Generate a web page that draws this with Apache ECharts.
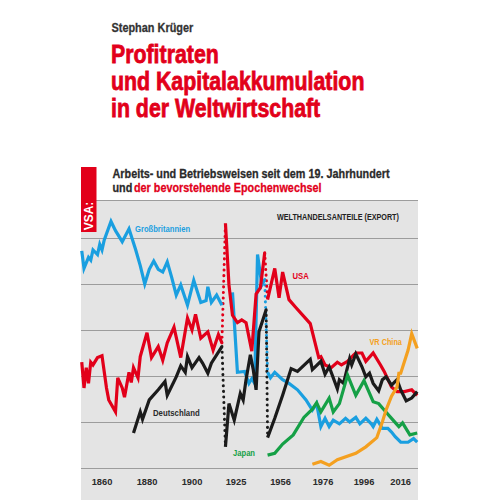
<!DOCTYPE html>
<html><head><meta charset="utf-8">
<script src="https://cdn.jsdelivr.net/npm/echarts@6/dist/echarts.min.js"></script>
<style>html,body{margin:0;padding:0;background:#fff}#c{width:500px;height:500px}</style>
</head><body><div id="c"></div>
<script>
// ---- tick labels of the (uneven) time axis ----
const tickYears = [1860, 1880, 1900, 1925, 1956, 1976, 1996, 2016];

// ---- world export shares (%), null = break in the series ----
const gbYears = [1851,1852,1854,1855,1856,1858,1859,1860,1861,1864,1866,1869,1872,1875,1877,1879,1881,1883,1885,1887,1889,1891,1893,1895,1898,1901,1905,1908,1909,1911,1914,1917,
  null,
  1923,1926,1931,1934,1936,1938,1940,1943,1945,
  null,
  1947,1949,1952,1957,1960,1964,1968,1971,1973,1975,1977,1979,1981,1984,1987,1989,1992,1994,1997,2000,2001,2003,2006,2009,2011,2013,2016,2020,2023,2025];
const gbShare = [23.6,21.7,22.9,22.6,23.7,23.2,24.3,23.7,24.8,26.8,25.8,24.6,26.0,23.7,22.0,20.0,21.6,22.5,21.6,21.3,22.4,20.7,18.8,19.9,17.7,20.4,18.0,18.2,19.7,18.0,18.8,17.7,
  null,
  19.1,10.4,10.5,9.2,9.7,9.2,23.2,19.9,20.5,
  null,
  10.4,9.8,10.4,9.6,9.2,8.5,7.4,6.3,7.0,4.5,5.4,4.5,5.2,4.8,5.4,5.0,5.5,4.8,5.4,4.8,4.5,5.3,4.3,4.3,3.9,3.4,2.8,2.8,3.2,2.8];

const usaYears = [1851,1852,1853,1854,1855,1856,1858,1860,1862,1863,1866,1867,1869,1870,1872,1873,1874,1876,1877,1880,1882,1885,1887,1889,1892,1895,1898,1900,1902,1905,1909,1912,1915,1917,
  null,
  1919,1921,1923,1926,1929,1932,1936,1939,1942,1945,
  null,
  1947,1952,1955,1957,1960,1963,1970,1974,1975,1977,1980,1983,1985,1988,1991,1992,1995,1997,2001,2005,2007,2011,2014,2018,2022,2025];
const usaShare = [11.5,8.7,10.9,9.2,11.5,11.2,12.0,12.2,8.7,7.4,6.1,9.8,8.7,7.7,10.4,9.3,10.9,9.8,12.1,14.7,12.0,13.2,11.7,13.6,15.3,12.0,16.3,15.0,16.7,14.1,14.8,12.8,14.5,13.6,
  null,
  26.6,19.9,16.6,15.8,16.1,15.8,12.7,18.9,19.6,23.4,
  null,
  18.3,21.7,18.5,21.3,18.3,17.5,15.7,12.0,12.1,11.2,10.9,11.5,11.2,11.6,12.3,12.5,12.5,11.6,12.5,11.2,10.5,8.8,8.3,8.3,8.5,7.9];

const deYears = [1874,1877,1878,1881,1885,1888,1889,1893,1895,1897,1898,1900,1904,1906,1909,1911,1917,
  null,
  1919,1921,1924,1928,1930,1932,1935,1937,1939,1941,1946,
  null,
  1947,1952,1957,1961,1964,1970,1971,1975,1977,1979,1983,1984,1986,1989,1990,1992,1995,1997,1999,2001,2004,2006,2008,2011,2014,2016,2019,2022,2025];
const deShare = [3.8,6.1,5.3,7.4,8.5,9.4,7.9,9.9,11.1,10.4,12.1,10.9,12.0,11.4,10.3,11.4,13.2,
  null,
  2.3,7.0,5.2,8.1,7.4,9.6,12.3,10.7,8.5,14.8,17.2,
  null,
  3.3,5.4,7.9,10.8,10.5,11.8,10.7,11.6,10.2,11.0,8.6,9.6,9.2,11.9,11.2,12.4,11.0,9.9,10.3,9.2,8.4,9.6,9.9,9.0,9.6,8.5,7.3,7.6,8.3];

const jpYears = [1947,1952,1957,1962,1967,1971,1973,1975,1979,1981,1984,1988,1992,1996,2001,2004,2007,2011,2015,2017,2021,2025];
const jpShare = [1.4,1.6,2.6,3.6,5.5,6.4,7.1,6.1,7.6,6.1,7.0,10.1,7.9,9.5,7.2,7.0,6.3,5.4,4.5,4.9,3.6,3.8];

const cnYears = [1971,1975,1979,1983,1992,1997,2003,2006,2008,2011,2014,2015,2016,2020,2022,2025];
const cnShare = [0.4,0.7,0.3,0.9,1.6,2.3,3.3,5.0,6.3,7.8,8.8,10.3,10.3,12.8,14.6,13.0];

// ---- layout / style ----
const axisPos = [21, 66, 111, 155, 199.5, 242, 283, 319.7]; // where the tick years sit on the axis
const FONT = "'Liberation Sans',Arial,sans-serif";
const NARROW = 0.82;
const RED = '#e2001a', BLUE = '#1a9fe0', BLACK = '#1b1b1b', GREEN = '#15a046', ORANGE = '#f4a020';

function pos(y) {
  let i = 0;
  while (i < tickYears.length - 2 && y > tickYears[i + 1]) i++;
  const y0 = tickYears[i], y1 = tickYears[i + 1];
  return axisPos[i] + (y - y0) * (axisPos[i + 1] - axisPos[i]) / (y1 - y0);
}
function segments(years, vals) {
  const segs = [[]];
  years.forEach((y, k) => {
    if (y === null) segs.push([]);
    else segs[segs.length - 1].push([pos(y), vals[k]]);
  });
  return segs;
}
const series = [];
function addCountry(years, vals, color, dottedBreaks) {
  const segs = segments(years, vals);
  segs.forEach(s => series.push({
    type: 'line', data: s, symbol: 'none', silent: true, z: 3,
    lineStyle: { color, width: 3.2, join: 'miter' }
  }));
  dottedBreaks.forEach((d, i) => {
    if (!d) return;
    const a = segs[i][segs[i].length - 1], b = segs[i + 1][0];
    series.push({
      type: 'line', data: [a, b], symbol: 'none', silent: true, z: 2,
      lineStyle: { color, width: 3, type: [0.1, 5.5], cap: 'round' }
    });
  });
}
addCountry(gbYears, gbShare, BLUE, [false, true]);
addCountry(usaYears, usaShare, RED, [true, true]);
addCountry(deYears, deShare, BLACK, [true, true]);
addCountry(jpYears, jpShare, GREEN, []);
addCountry(cnYears, cnShare, ORANGE, []);

function txt(text, x, y, size, color, heavy) {
  const style = { text, x: 0, y: 0, fontSize: size, fontWeight: 'bold', fontFamily: FONT, fill: color,
    textAlign: 'left', textVerticalAlign: 'middle' };
  if (heavy) { style.stroke = color; style.lineWidth = heavy; }
  return { type: 'text', x, y, z: 10, scaleX: NARROW, scaleY: 1, style };
}

const chart = echarts.init(document.getElementById('c'), null, { renderer: 'svg' });
chart.setOption({
  animation: false,
  backgroundColor: '#ffffff',
  grid: { left: 81, right: 82, top: 200, bottom: 32, show: true, backgroundColor: '#e4e4e4', borderWidth: 0 },
  xAxis: {
    type: 'value', min: 0, max: 337,
    axisLine: { show: false }, axisTick: { show: false }, splitLine: { show: false },
    axisLabel: {
      customValues: axisPos, margin: 9, color: '#2a2a2a', fontWeight: 'bold', fontSize: 9.3, fontFamily: FONT,
      formatter: v => { const k = axisPos.findIndex(p => Math.abs(p - v) < 0.01); return k >= 0 ? String(tickYears[k]) : ''; }
    }
  },
  yAxis: {
    type: 'value', min: 0, max: 29.13, interval: 5,
    axisLine: { show: false }, axisTick: { show: false }, axisLabel: { show: false },
    splitLine: { show: true, lineStyle: { color: '#9c9c9c', width: 1 } }
  },
  series,
  graphic: [
    { type: 'rect', z: -1, shape: { x: 81, y: 469, width: 337, height: 31 }, style: { fill: '#e4e4e4' } },
    { type: 'rect', z: 5, shape: { x: 81, y: 167, width: 15.5, height: 65 }, style: { fill: RED } },
    { type: 'text', z: 10, x: 88.8, y: 216, rotation: Math.PI / 2,
      style: { text: 'VSA:', x: 0, y: 0, fontSize: 12, fontWeight: 'bold', fontFamily: FONT,
        fill: '#ffffff', textAlign: 'center', textVerticalAlign: 'middle' } },
    txt('Stephan Krüger', 111.5, 28, 13.3, '#333333', 0.3),
    txt('Profitraten', 111, 54, 26, RED, 0.8),
    txt('und Kapitalakkumulation', 111, 81, 26, RED, 0.8),
    txt('in der Weltwirtschaft', 111, 108, 26, RED, 0.8),
    txt('Arbeits- und Betriebsweisen seit dem 19. Jahrhundert', 112.5, 174, 13.2, '#2a2a2a', 0.3),
    txt('und', 112.5, 188, 13.2, '#2a2a2a', 0.3),
    txt('der bevorstehende Epochenwechsel', 134, 188, 13.2, RED, 0.3),
    txt('WELTHANDELSANTEILE (EXPORT)', 277, 217, 8.8, '#222222'),
    txt('Großbritannien', 135, 229, 9.3, BLUE),
    txt('USA', 292.5, 276, 9.4, RED),
    txt('VR China', 369.5, 342, 8.9, ORANGE),
    txt('Deutschland', 153, 413, 9.5, '#2a2a2a'),
    txt('Japan', 233, 453, 9.3, GREEN)
  ]
});
</script>
</body></html>
